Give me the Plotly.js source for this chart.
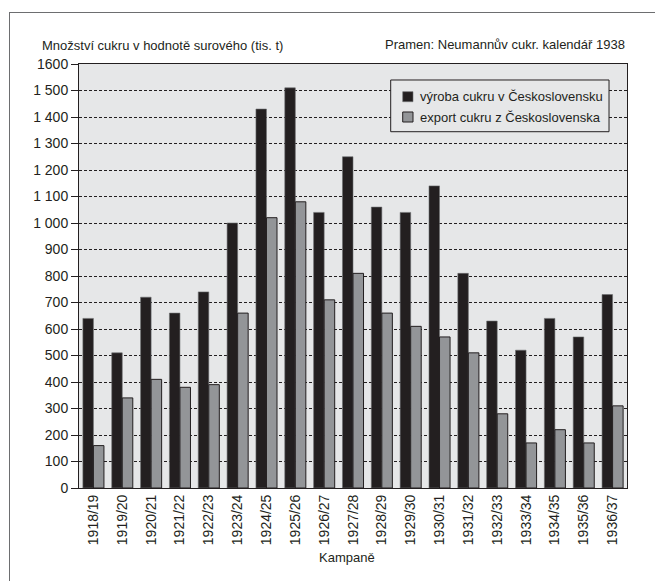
<!DOCTYPE html>
<html>
<head>
<meta charset="utf-8">
<script src="https://cdn.plot.ly/plotly-3.0.1.min.js"></script>
<style>
  html, body { margin: 0; padding: 0; background: #ffffff; }
  #wrap { position: relative; width: 655px; height: 581px; }
  #chart { width: 655px; height: 581px; }
  #frame { position: absolute; left: 9px; top: 12px; width: 646px; height: 568px;
           border-left: 1px solid #6d6e70; border-top: 1px solid #6d6e70; pointer-events: none; }
</style>
</head>
<body>
<div id="wrap">
  <div id="chart"></div>
  <div id="frame"></div>
</div>
<script>
const categories = ["1918/19","1919/20","1920/21","1921/22","1922/23","1923/24","1924/25","1925/26","1926/27","1927/28","1928/29","1929/30","1930/31","1931/32","1932/33","1933/34","1934/35","1935/36","1936/37"];
const production = [640, 510, 720, 660, 740, 1000, 1430, 1510, 1040, 1250, 1060, 1040, 1140, 810, 630, 520, 640, 570, 730];
const exportValues = [160, 340, 410, 380, 390, 660, 1020, 1080, 710, 810, 660, 610, 570, 510, 280, 170, 220, 170, 310];
const seriesNames = ["výroba cukru v Československu", "export cukru z Československa"];
const tickValues = [0,100,200,300,400,500,600,700,800,900,1000,1100,1200,1300,1400,1500,1600];
const tickLabels = ["0","100","200","300","400","500","600","700","800","900","1 000","1 100","1 200","1 300","1 400","1 500","1600"];

const FONT = "'Liberation Sans Narrow', 'Arial Narrow', 'Liberation Sans', sans-serif";
const INK = "#231f20";
const BLACK_BAR = "#231f20";
const GRAY_BAR = "#939598";
const PLOT_BG = "#e6e7e8";

const traces = [
  {
    type: "bar", name: seriesNames[0],
    x: categories, y: production,
    marker: { color: BLACK_BAR, line: { color: "#6d6e70", width: 0.6 } },
    hoverinfo: "x+y"
  },
  {
    type: "bar", name: seriesNames[1],
    x: categories, y: exportValues,
    marker: { color: GRAY_BAR, line: { color: INK, width: 1 } },
    hoverinfo: "x+y"
  }
];

// legend drawn as shapes + annotations (box, swatches, labels)
const shapes = [
  { type: "rect", xref: "paper", yref: "paper", x0: 0.5688, x1: 0.9672, y0: 0.8403, y1: 0.9623,
    fillcolor: PLOT_BG, line: { color: INK, width: 1 }, layer: "above" },
  { type: "rect", xref: "paper", yref: "paper", x0: 0.5907, x1: 0.6095, y0: 0.9111, y1: 0.9347,
    fillcolor: BLACK_BAR, line: { color: "#6d6e70", width: 0.6 }, layer: "above" },
  { type: "rect", xref: "paper", yref: "paper", x0: 0.5907, x1: 0.6095, y0: 0.8632, y1: 0.8868,
    fillcolor: GRAY_BAR, line: { color: INK, width: 1 }, layer: "above" }
];

const annotations = [
  {
    text: "Množství cukru v hodnotě surového (tis. t)",
    xref: "paper", yref: "paper", x: -0.0715, y: 1.043,
    xanchor: "left", yanchor: "middle", showarrow: false,
    font: { family: FONT, size: 13, color: INK }
  },
  {
    text: "Pramen: Neumannův cukr. kalendář 1938",
    xref: "paper", yref: "paper", x: 1.0, y: 1.045,
    xanchor: "right", yanchor: "middle", showarrow: false,
    font: { family: FONT, size: 13, color: INK }
  },
  {
    text: "Kampaně",
    xref: "paper", yref: "paper", x: 0.489, y: -0.165,
    xanchor: "center", yanchor: "middle", showarrow: false,
    font: { family: FONT, size: 13, color: INK }
  },
  {
    text: seriesNames[0],
    xref: "paper", yref: "paper", x: 0.6186, y: 0.9229,
    xanchor: "left", yanchor: "middle", showarrow: false,
    font: { family: FONT, size: 13, color: INK }
  },
  {
    text: seriesNames[1],
    xref: "paper", yref: "paper", x: 0.6186, y: 0.8743,
    xanchor: "left", yanchor: "middle", showarrow: false,
    font: { family: FONT, size: 13, color: INK }
  }
];

const layout = {
  width: 655, height: 581,
  margin: { l: 79, r: 28, t: 64, b: 93, pad: 0 },
  paper_bgcolor: "#ffffff",
  plot_bgcolor: PLOT_BG,
  font: { family: FONT, size: 14, color: INK },
  barmode: "group",
  bargap: 0.27,
  bargroupgap: 0,
  showlegend: false,
  xaxis: {
    type: "category",
    tickangle: -90,
    ticks: "", showgrid: false,
    showline: true, linecolor: INK, linewidth: 1, mirror: true,
    tickfont: { family: FONT, size: 14, color: INK },
    automargin: false
  },
  yaxis: {
    range: [0, 1600],
    tickmode: "array", tickvals: tickValues, ticktext: tickLabels,
    ticks: "outside", ticklen: 7, tickcolor: INK, tickwidth: 1,
    showline: true, linecolor: INK, linewidth: 1, mirror: true,
    showgrid: true, gridcolor: INK, gridwidth: 1, griddash: "3px,2px",
    zeroline: false,
    tickfont: { family: FONT, size: 14, color: INK },
    automargin: false
  },
  shapes: shapes,
  annotations: annotations
};

Plotly.newPlot("chart", traces, layout, { displayModeBar: false, staticPlot: true });
</script>
</body>
</html>
